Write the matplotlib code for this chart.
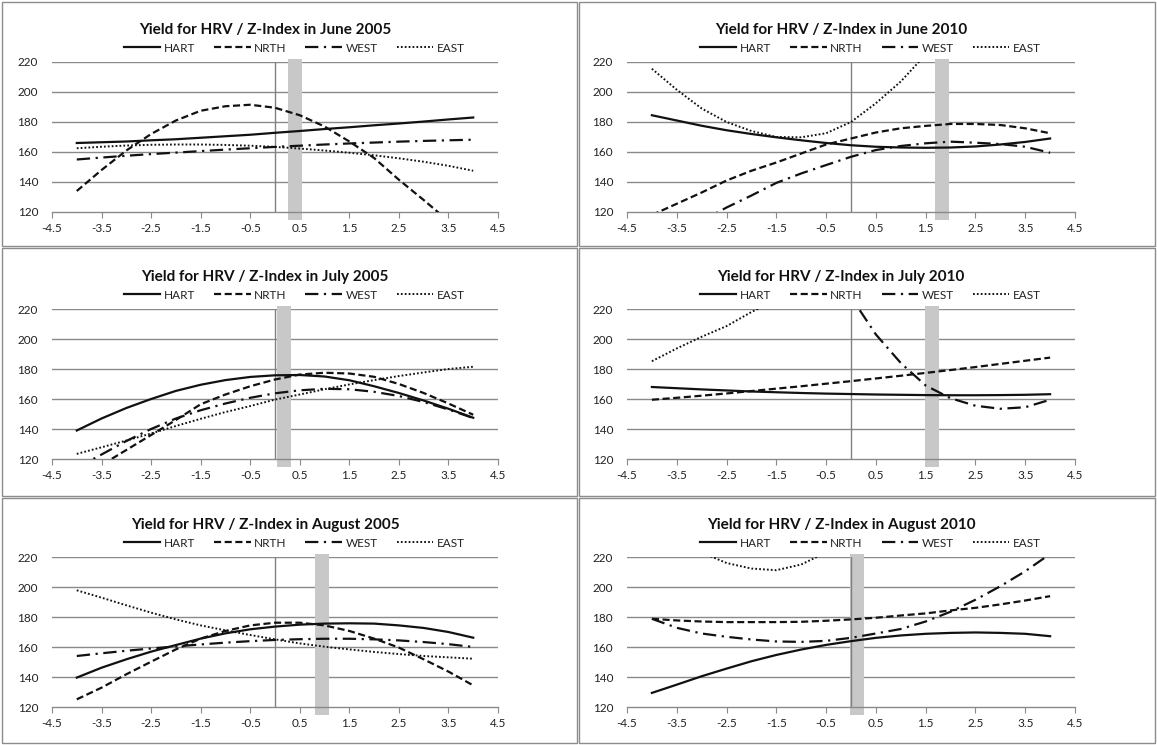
import matplotlib
matplotlib.use("Agg")
import matplotlib.pyplot as plt
from matplotlib.patches import Rectangle

# z-index positions where the trend curves were read
x_vals = [-4, -3.5, -3, -2.5, -2, -1.5, -1, -0.5, 0, 0.5, 1, 1.5, 2, 2.5, 3, 3.5, 4]
x_ticks = [-4.5, -3.5, -2.5, -1.5, -0.5, 0.5, 1.5, 2.5, 3.5, 4.5]
y_ticks = [120, 140, 160, 180, 200, 220]
series_names = ["HART", "NRTH", "WEST", "EAST"]

titles = [
    "Yield for HRV / Z-Index in June 2005",
    "Yield for HRV / Z-Index in June 2010",
    "Yield for HRV / Z-Index in July 2005",
    "Yield for HRV / Z-Index in July 2010",
    "Yield for HRV / Z-Index in August 2005",
    "Yield for HRV / Z-Index in August 2010",
]

# shaded band centre for each panel
band_centers = [0.40, 1.83, 0.18, 1.63, 0.95, 0.12]

jun05_hart = [166, 166.5, 167, 167.8, 168.5, 169.5, 170.5, 171.5, 172.8, 174, 175.3, 176.5, 177.8, 179, 180.3, 181.7, 183]
jun05_nrth = [134, 148, 161, 172, 181, 187.5, 190.5, 191.5, 189.5, 184.5, 177, 167, 156, 141.5, 128, 114, 97]
jun05_west = [155, 156.3, 157.5, 158.6, 159.6, 160.6, 161.6, 162.5, 163.4, 164.2, 165, 165.7, 166.3, 166.9, 167.4, 167.8, 168.2]
jun05_east = [162.5, 163.5, 164.3, 164.8, 165, 165, 164.7, 164.2, 163.4, 162.3, 161, 159.5, 157.8, 155.8, 153.5, 150.8, 147.5]

jun10_hart = [184.5, 181, 177.5, 174.5, 172, 169.8, 167.8, 166, 164.5, 163.5, 163, 162.8, 163, 163.7, 165, 166.7, 169]
jun10_nrth = [118, 125.5, 133, 141, 147.5, 153, 159, 165, 169, 173, 175.8, 177.4, 178.7, 178.7, 178, 175.8, 172.5]
jun10_west = [97, 106, 114, 123, 131, 139.4, 145.7, 151.3, 156.8, 161.3, 164, 165.8, 166.9, 166.2, 165.3, 163.5, 159.5]
jun10_east = [215.5, 201.5, 189, 180, 174, 170, 169.8, 172.5, 180, 192.5, 207, 225, 245, 268, 295, 325, 358]

jul05_hart = [139, 147, 154, 160, 165.4, 169.5, 172.6, 174.7, 175.8, 176, 175, 172.5, 168.5, 164, 159, 153.5, 147.5]
jul05_nrth = [104, 116, 126, 136, 146, 156.5, 163, 168.5, 173, 176.3, 177.5, 177, 174.8, 170, 164, 157, 149.5]
jul05_west = [114, 123, 132, 140, 147, 152.5, 157, 160.8, 163.8, 165.8, 166.8, 166.5, 164.8, 162, 158, 153, 147.3]
jul05_east = [123.4, 127.8, 132.3, 137, 142, 146.8, 151.3, 155.3, 159.6, 163, 166.5, 169.7, 172.6, 175.3, 177.7, 180, 181.5]

jul10_hart = [168, 167.2, 166.4, 165.7, 165, 164.5, 164, 163.6, 163.3, 163, 162.8, 162.6, 162.5, 162.5, 162.6, 162.8, 163.2]
jul10_nrth = [159.5, 160.8, 162.2, 163.7, 165.3, 166.9, 168.5, 170.2, 171.9, 173.7, 175.5, 177.4, 179.3, 181.3, 183.4, 185.5, 187.6]
jul10_west = [545, 490, 440, 395, 355, 318, 285, 255, 228, 203, 184, 169, 160.5, 155.5, 153.5, 154.5, 159.5]
jul10_east = [185.2, 193.7, 201.5, 208.6, 218, 226, 233, 240, 247, 254, 261, 268, 275, 282, 289, 296, 303]

aug05_hart = [139.6, 146.2, 151.8, 156.9, 161.3, 165.6, 169.1, 171.8, 173.6, 174.9, 175.6, 175.8, 175.6, 174.4, 172.7, 170, 166.2]
aug05_nrth = [125.1, 132.9, 141.8, 150.2, 158.4, 165.6, 170.7, 174.4, 176.2, 176.2, 174.4, 170.7, 165.6, 159.6, 151.8, 143.6, 134.4]
aug05_west = [154, 155.8, 157.5, 159, 160.4, 161.7, 162.9, 163.9, 164.7, 165.2, 165.5, 165.5, 165.1, 164.4, 163.3, 161.9, 160]
aug05_east = [197.8, 192.9, 187.8, 182.9, 178.4, 174.4, 171.1, 168, 165.1, 162.4, 160.2, 158.4, 156.7, 155.3, 154, 153.1, 152.2]

aug10_hart = [129.4, 134.9, 140.5, 145.6, 150.5, 154.7, 158.3, 161.4, 163.9, 166.1, 167.7, 168.8, 169.4, 169.7, 169.4, 168.8, 167.2]
aug10_nrth = [178.8, 177.7, 177, 176.6, 176.6, 176.6, 176.8, 177.5, 178.4, 179.5, 181, 182.4, 184.4, 186.1, 188.4, 191, 193.9]
aug10_west = [178.8, 172.8, 169, 166.8, 165, 163.7, 163.4, 164.1, 166.1, 169, 172, 177, 183.5, 191.5, 200.5, 210.5, 222]
aug10_east = [250, 236, 223, 216, 212.3, 211.2, 215, 223, 232, 245, 262, 282, 305, 330, 358, 390, 425]

panel_data = [
    [jun05_hart, jun05_nrth, jun05_west, jun05_east],
    [jun10_hart, jun10_nrth, jun10_west, jun10_east],
    [jul05_hart, jul05_nrth, jul05_west, jul05_east],
    [jul10_hart, jul10_nrth, jul10_west, jul10_east],
    [aug05_hart, aug05_nrth, aug05_west, aug05_east],
    [aug10_hart, aug10_nrth, aug10_west, aug10_east],
]

line_styles = [
    dict(linestyle="-", linewidth=1.6),
    dict(linestyle=(0, (3.2, 1.6)), linewidth=1.6),
    dict(linestyle=(0, (6, 2.5, 1, 2.5)), linewidth=1.6),
    dict(linestyle=(0, (0.9, 1.1)), linewidth=1.4),
]

plt.rcParams["font.family"] = ["Lato", "DejaVu Sans"]

W, H = 1157, 745
fig = plt.figure(figsize=(W / 100, H / 100), dpi=100)
fig.patch.set_facecolor("white")

grid_col = "#8a8a8a"
lefts = [52, 627]
widths = [446, 448]
tops = [62, 309, 557]

for i in range(6):
    row, col = divmod(i, 2)
    # panel frame
    px0 = 2 if col == 0 else 579
    px1 = 577 if col == 0 else 1155
    py0 = [2, 248, 498][row]
    py1 = [246, 496, 743][row]
    fig.add_artist(Rectangle((px0 / W, 1 - py1 / H), (px1 - px0) / W, (py1 - py0) / H,
                             transform=fig.transFigure, fill=False,
                             edgecolor="#8c8c8c", linewidth=1))

    ax = fig.add_axes([lefts[col] / W, 1 - (tops[row] + 150) / H,
                       widths[col] / W, 150 / H])
    ax.set_xlim(-4.5, 4.5)
    ax.set_ylim(120, 220)

    for yv in y_ticks[1:]:
        ax.axhline(yv, color=grid_col, linewidth=1, zorder=1)

    ax.bar(band_centers[i], 107, width=0.28, bottom=115, color="#c8c8c8",
           zorder=2, clip_on=False)
    ax.plot([0, 0], [120, 220], color="#808080", linewidth=1, zorder=3)

    for name, vals, st in zip(series_names, panel_data[i], line_styles):
        ax.plot(x_vals, vals, color="#111111", label=name, zorder=4,
                dash_capstyle="butt", **st)

    for s in ["top", "left", "right"]:
        ax.spines[s].set_visible(False)
    ax.spines["bottom"].set_color(grid_col)
    ax.spines["bottom"].set_linewidth(1)

    ax.set_xticks(x_ticks)
    ax.set_xticklabels([f"{t:g}" for t in x_ticks])
    ax.set_yticks(y_ticks)
    ax.tick_params(axis="x", length=4, color=grid_col, labelsize=8.5,
                   labelcolor="#222222", pad=4)
    ax.tick_params(axis="y", length=0, labelsize=8.5, labelcolor="#222222", pad=10)

    ax.text(0.478, 1.213, titles[i], transform=ax.transAxes, ha="center",
            va="center", fontsize=11, fontweight="bold", color="#111111")
    ax.legend(loc="center", bbox_to_anchor=(0.543, 1.093), ncol=4,
              frameon=False, fontsize=8.5, handlelength=3.1,
              handletextpad=0.3, columnspacing=1.6, borderaxespad=0,
              labelcolor="#222222")

fig.savefig("out.png", dpi=100)
